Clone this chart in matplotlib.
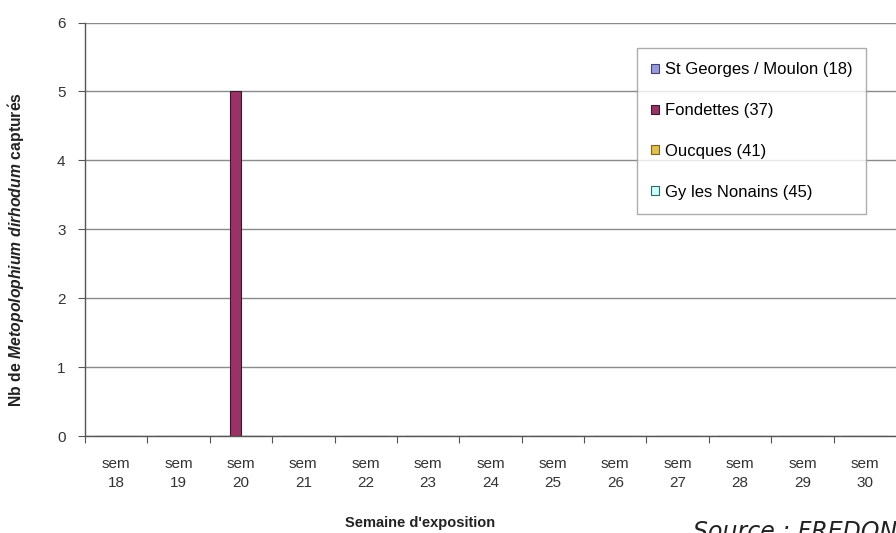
import numpy as np
import matplotlib
matplotlib.use('Agg')
import matplotlib.pyplot as plt

plt.rcParams.update({'font.family':'Liberation Sans','mathtext.fontset':'custom',
    'mathtext.rm':'Liberation Sans:bold','mathtext.bf':'Liberation Sans:bold',
    'mathtext.it':'Liberation Sans:italic:bold'})

weeks = ['sem\n%d' % w for w in range(18, 31)]
series = ['St Georges / Moulon (18)', 'Fondettes (37)', 'Oucques (41)', 'Gy les Nonains (45)']
st_georges = [0]*13
fondettes = [0, 0, 5, 0, 0, 0, 0, 0, 0, 0, 0, 0, 0]
oucques = [0]*13
gy = [0]*13
values = [st_georges, fondettes, oucques, gy]
colors = ['#9999dd', '#993366', '#e0c050', '#ccffff']
edges = ['#444466', '#3a1a2a', '#806020', '#336666']

fig = plt.figure(figsize=(8.96, 5.33), dpi=100)
ax = fig.add_axes([85/896, 1-436/533, 1-85/896, (436-22.5)/533])
x = np.arange(len(weeks)); w = 1/5.5
for i, (vals, c, e, lab) in enumerate(zip(values, colors, edges, series)):
    ax.bar(x + (i-1.5)*w, vals, width=w, color=c, edgecolor=e, linewidth=0.8, label=lab)
ax.set_xlim(-0.5, 12.5); ax.set_ylim(0, 6)
ax.set_yticks(range(7))
ax.yaxis.grid(True, color='#8a8a8a', linewidth=1); ax.set_axisbelow(True)
ax.set_xticks(np.arange(-0.5, 12.5, 1)); ax.set_xticklabels([])
ax.set_xticks(x, minor=True); ax.set_xticklabels(weeks, minor=True, fontsize=11, color='#333333', linespacing=1.45)
ax.tick_params(axis='x', which='minor', length=0, pad=15)
ax.tick_params(axis='x', which='major', length=5, color='#555555', direction='out')
ax.tick_params(axis='y', length=5, color='#555555', labelsize=11, labelcolor='#333333', pad=9)
for s in ['top', 'right']: ax.spines[s].set_visible(False)
for s in ['left', 'bottom']: ax.spines[s].set_color('#555555'); ax.spines[s].set_linewidth(1)

leg = ax.legend(loc='upper left', bbox_to_anchor=(637/896, 1-48/533), bbox_transform=fig.transFigure,
                fontsize=12, frameon=True, fancybox=False, edgecolor='#999999', labelspacing=1.55,
                handlelength=0.45, handleheight=0.45, handletextpad=0.35, borderpad=0.85, borderaxespad=0)
leg.get_frame().set_linewidth(1)

fig.text(17/896, 1-250/533, r'$\mathbf{Nb\ de\ }\mathit{Metopolophium\ dirhodum}\mathbf{\ captur\acute{e}s}$',
         rotation=90, ha='center', va='center', fontsize=11.3, color='#222222')
fig.text(420/896, 1-523/533, "Semaine d'exposition", ha='center', va='center', fontsize=10.5,
         fontweight='bold', color='#222222')
fig.text(693/896, 1-520/533, 'Source : FREDON', ha='left', va='top', fontsize=17,
         style='italic', family='DejaVu Sans', color='#222222')

plt.savefig('out.png', dpi=100); plt.close()
